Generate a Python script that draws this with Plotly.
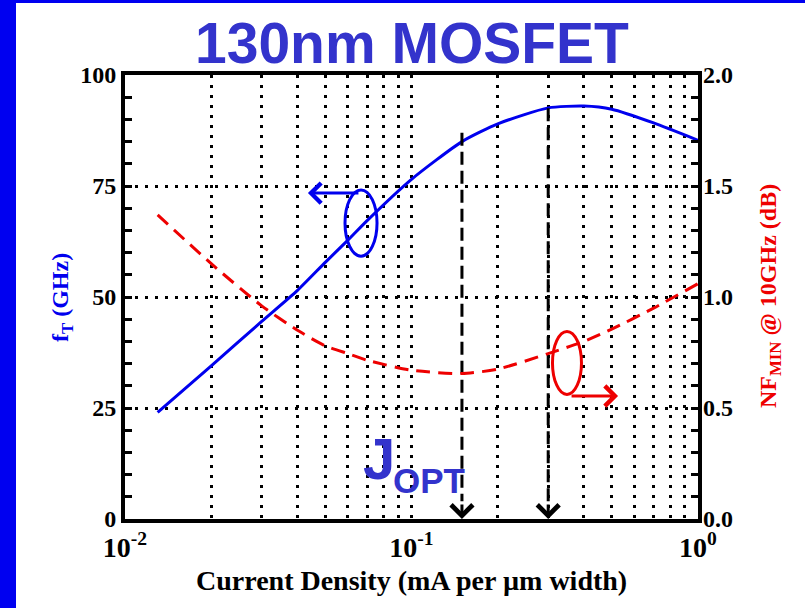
import numpy as np
import plotly.graph_objects as go

# ---------------- data ----------------
current_density = [0.013, 0.02, 0.03, 0.04, 0.05, 0.06, 0.07, 0.1, 0.15, 0.2, 0.3, 0.4, 0.5, 0.7, 1.0]
ft_ghz = [24.0, 34.5, 44.5, 51.5, 57.8, 62.8, 67.2, 76.5, 85.0, 89.0, 92.6, 93.0, 92.3, 89.2, 85.3]
nfmin_db = [1.37, 1.15, 0.96, 0.85, 0.78, 0.745, 0.715, 0.67, 0.655, 0.675, 0.745, 0.80, 0.855, 0.95, 1.06]

jopt_x = [0.15, 0.30]
jopt_top = [87.0, 92.5]

x_grid_vals = [0.01, 0.02, 0.03, 0.04, 0.05, 0.06, 0.07, 0.08, 0.09,
               0.1, 0.2, 0.3, 0.4, 0.5, 0.6, 0.7, 0.8, 0.9, 1.0]
x_tick_labels = {0.01: "10<sup>-2</sup>", 0.1: "10<sup>-1</sup>", 1.0: "10<sup>0</sup>"}
y_left_ticks = [0, 25, 50, 75, 100]
y_right_ticks = [0.0, 0.5, 1.0, 1.5, 2.0]

# annotation marks (ellipse boxes & arrows)
ft_ellipse_x = [0.0586, 0.0758]
ft_ellipse_y = [59.2, 74.1]
ft_arrow = (0.0435, 73.4)
nf_ellipse_x = [0.3105, 0.392]
nf_ellipse_y = [0.561, 0.845]
nf_arrow = (0.526, 0.554)

BLUE = "#0000ee"
RED = "#ee0000"
TITLE_BLUE = "#3333cc"
SERIF = "Liberation Serif"
SANS = "Liberation Sans"

fig = go.Figure()

fig.add_trace(go.Scatter(
    x=current_density, y=ft_ghz, mode="lines", yaxis="y",
    line=dict(color=BLUE, width=3, shape="spline", smoothing=0.6),
    showlegend=False, hoverinfo="skip"))

fig.add_trace(go.Scatter(
    x=current_density, y=nfmin_db, mode="lines", yaxis="y2",
    line=dict(color=RED, width=3, dash="14px,8px", shape="spline", smoothing=0.6),
    showlegend=False, hoverinfo="skip"))

for xv, top in zip(jopt_x, jopt_top):
    fig.add_trace(go.Scatter(
        x=[xv, xv], y=[top, 4], mode="lines", yaxis="y",
        line=dict(color="black", width=3, dash="13px,6px"),
        showlegend=False, hoverinfo="skip"))
    fig.add_annotation(x=np.log10(xv), y=0, xref="x", yref="y", text="",
                       showarrow=True, ax=0, ay=-16, arrowhead=4, arrowsize=1.4,
                       arrowwidth=3, arrowcolor="black", standoff=0)

# ellipses
fig.add_shape(type="circle", xref="x", yref="y",
              x0=ft_ellipse_x[0], x1=ft_ellipse_x[1], y0=ft_ellipse_y[0], y1=ft_ellipse_y[1],
              line=dict(color=BLUE, width=3))
fig.add_shape(type="circle", xref="x", yref="y2",
              x0=nf_ellipse_x[0], x1=nf_ellipse_x[1], y0=nf_ellipse_y[0], y1=nf_ellipse_y[1],
              line=dict(color=RED, width=3))

# arrows
fig.add_annotation(x=np.log10(ft_arrow[0]), y=ft_arrow[1], xref="x", yref="y", text="",
                   showarrow=True, ax=52, ay=0, arrowhead=4, arrowsize=1.3,
                   arrowwidth=3, arrowcolor=BLUE, standoff=0)
fig.add_annotation(x=np.log10(nf_arrow[0]), y=nf_arrow[1], xref="x", yref="y2", text="",
                   showarrow=True, ax=-48, ay=0, arrowhead=4, arrowsize=1.3,
                   arrowwidth=3, arrowcolor=RED, standoff=0)

# white page on blue background
fig.add_shape(type="rect", xref="paper", yref="paper", layer="below",
              x0=(16 - 125) / 573, x1=(815 - 125) / 573,
              y0=(519 - 620) / 444, y1=(519 - 3) / 444,
              fillcolor="white", line=dict(width=0))

# texts
fig.add_annotation(text="<b>130nm MOSFET</b>", xref="paper", yref="paper",
                   x=0.5, y=(519 - 43) / 444, xanchor="center", yanchor="middle",
                   showarrow=False, font=dict(family=SANS, size=57, color=TITLE_BLUE))
fig.add_annotation(text="<b>J</b>", xref="paper", yref="paper",
                   x=(379 - 125) / 573, y=(519 - 458) / 444, xanchor="center", yanchor="middle",
                   showarrow=False, font=dict(family=SANS, size=58, color=TITLE_BLUE))
fig.add_annotation(text="<b>OPT</b>", xref="paper", yref="paper",
                   x=(429 - 125) / 573, y=(519 - 480) / 444, xanchor="center", yanchor="middle",
                   showarrow=False, font=dict(family=SANS, size=35, color=TITLE_BLUE))
fig.add_annotation(text="<b>f<sub>T</sub> (GHz)</b>", xref="paper", yref="paper",
                   x=(62 - 125) / 573, y=(519 - 298) / 444, xanchor="center", yanchor="middle",
                   textangle=-90, showarrow=False,
                   font=dict(family=SERIF, size=24, color=BLUE))
fig.add_annotation(text="<b>NF<sub>MIN</sub> @ 10GHz (dB)</b>", xref="paper", yref="paper",
                   x=(770 - 125) / 573, y=(519 - 296) / 444, xanchor="center", yanchor="middle",
                   textangle=-90, showarrow=False,
                   font=dict(family=SERIF, size=24, color=RED))
fig.add_annotation(text="<b>Current Density (mA per \u00b5m width)</b>", xref="paper", yref="paper",
                   x=0.5, y=(519 - 580) / 444, xanchor="center", yanchor="middle",
                   showarrow=False, font=dict(family=SERIF, size=28, color="black"))

ticktext = [x_tick_labels.get(v, "") for v in x_grid_vals]

grid_common = dict(showgrid=True, gridcolor="black", gridwidth=2.5, griddash="3px,7px")

fig.update_layout(
    width=805, height=608,
    margin=dict(l=125, r=107, t=75, b=89),
    paper_bgcolor="#0000f0",
    plot_bgcolor="rgba(0,0,0,0)",
    showlegend=False,
    xaxis=dict(type="log", range=[-2, 0], tickmode="array", tickvals=x_grid_vals,
               ticktext=ticktext, ticks="", zeroline=False,
               showline=True, linewidth=4, linecolor="black", mirror=True,
               tickfont=dict(family=SERIF, size=28, color="black", weight="bold"),
               **grid_common),
    yaxis=dict(range=[0, 100], tickmode="array", tickvals=y_left_ticks, ticks="inside",
               ticklen=7, tickwidth=3, tickcolor="black", zeroline=False,
               showline=True, linewidth=4, linecolor="black", mirror=True,
               tickfont=dict(family=SERIF, size=24, color="black", weight="bold"),
               minor=dict(dtick=5, ticks="inside", ticklen=7, tickwidth=3,
                          tickcolor="black", showgrid=False),
               **grid_common),
    yaxis2=dict(range=[0, 2], overlaying="y", side="right", tickmode="array",
                tickvals=y_right_ticks, ticktext=[f"{v:.1f}" for v in y_right_ticks],
                ticks="inside", ticklen=7, tickwidth=3, tickcolor="black",
                showgrid=False, zeroline=False, showline=False, ticklabelstandoff=4,
                tickfont=dict(family=SERIF, size=24, color="black", weight="bold"),
                minor=dict(dtick=0.1, ticks="inside", ticklen=7, tickwidth=3,
                           tickcolor="black", showgrid=False)),
)

fig.write_html("out.html")
